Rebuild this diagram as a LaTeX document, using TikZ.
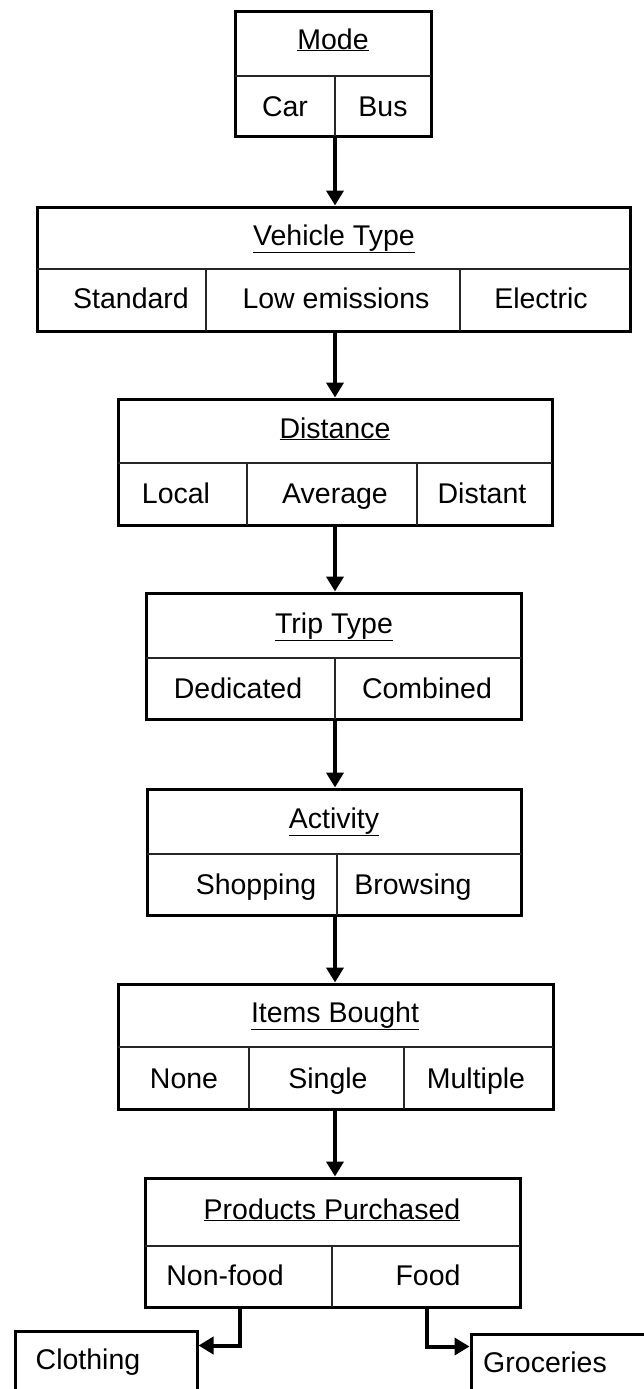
\documentclass[tikz,border=0pt]{standalone}
\usepackage{fontspec}
\setmainfont{Liberation Sans}
\usetikzlibrary{arrows.meta}
\begin{document}
\begin{tikzpicture}[x=1pt, y=-1pt,
    box/.style={draw, line width=3pt, inner sep=0pt},
    sep/.style={line width=1.5pt, draw=black!85},
    link/.style={line width=4pt, -{Triangle[length=15pt, width=17pt]}},
    every node/.append style={font=\fontsize{28.5}{32}\selectfont, text height=20pt, text depth=0pt}]
    \useasboundingbox (0,0) rectangle (644,1389);

    % Modo
    \node[box, minimum width=196pt, minimum height=124pt] (mode) at (333,74) {};
    \draw[sep] (235,76) -- (431,76) (335,76) -- (335,136);
    \node (modet) at (333,39) {\underline{Mode}};
    \foreach \x/\val/\nm in {285/Car/car, 383/Bus/bus} {
        \node (\nm) at (\x,106) {\val};
    }

    % Vehiculo
    \node[box, minimum width=593pt, minimum height=124pt] (vtype) at (333.5,269) {};
    \draw[sep] (37,269) -- (630,269) (206,269) -- (206,331) (460,269) -- (460,331);
    \node (vtypet) at (334,235) {\underline{Vehicle Type}};
    \foreach \x/\val/\nm in {131/Standard/std, 336/Low emissions/low, 541/Electric/elec} {
        \node (\nm) at (\x,298) {\val};
    }

    % Distancia
    \node[box, minimum width=434pt, minimum height=126pt] (dist) at (335,462) {};
    \draw[sep] (118,463) -- (552,463) (247,463) -- (247,525) (417,463) -- (417,525);
    \node (distt) at (335,428) {\underline{Distance}};
    \foreach \x/\val/\nm in {176/Local/loc, 335/Average/avg, 482/Distant/far} {
        \node (\nm) at (\x,493) {\val};
    }

    % Viaje
    \node[box, minimum width=375pt, minimum height=126pt] (trip) at (333.5,656) {};
    \draw[sep] (146,658) -- (521,658) (335,658) -- (335,719);
    \node (tript) at (334,623) {\underline{Trip Type}};
    \foreach \x/\val/\nm in {238/Dedicated/ded, 427/Combined/comb} {
        \node (\nm) at (\x,688) {\val};
    }

    % Actividad
    \node[box, minimum width=374pt, minimum height=126pt] (act) at (334,852) {};
    \draw[sep] (147,854) -- (521,854) (337,854) -- (337,915);
    \node (actt) at (334,818) {\underline{Activity}};
    \foreach \x/\val/\nm in {256/Shopping/shop, 413/Browsing/brow} {
        \node (\nm) at (\x,884) {\val};
    }

    % Compras
    \node[box, minimum width=435pt, minimum height=125pt] (items) at (335.5,1046.5) {};
    \draw[sep] (118,1047) -- (553,1047) (249,1047) -- (249,1109) (404,1047) -- (404,1109);
    \node (itemst) at (335,1012) {\underline{Items Bought}};
    \foreach \x/\val/\nm in {184/None/none, 328/Single/single, 476/Multiple/multi} {
        \node (\nm) at (\x,1078) {\val};
    }

    % Productos
    \node[box, minimum width=375pt, minimum height=129pt] (prod) at (332.5,1242.5) {};
    \draw[sep] (145,1246) -- (520,1246) (332,1246) -- (332,1307);
    \node (prodt) at (332,1209) {\underline{Products Purchased}};
    \foreach \x/\val/\nm in {225/Non-food/nonfood, 428/Food/food} {
        \node (\nm) at (\x,1275) {\val};
    }

    % Hojas
    \node[box, minimum width=182pt, minimum height=89pt] (cloth) at (106,1375.5) {};
    \node (clotht) at (88,1359) {Clothing};
    \node[box, minimum width=189pt, minimum height=87pt] (groc) at (565.5,1377.5) {};
    \node (groct) at (545,1362) {Groceries};

    % Flechas
    \draw[link] (mode.south -| 335,0) -- (vtype.north -| 335,0);
    \draw[link] (vtype.south -| 335,0) -- (dist.north -| 335,0);
    \draw[link] (dist.south -| 335,0) -- (trip.north -| 335,0);
    \draw[link] (trip.south -| 335,0) -- (act.north -| 335,0);
    \draw[link] (act.south -| 335,0) -- (items.north -| 335,0);
    \draw[link] (items.south -| 335,0) -- (prod.north -| 335,0);
    \draw[link] (prod.south -| 240,0) |- ([yshift=-16pt]cloth.north east);
    \draw[link] (prod.south -| 427,0) |- ([yshift=-14pt]groc.north west);
\end{tikzpicture}
\end{document}
